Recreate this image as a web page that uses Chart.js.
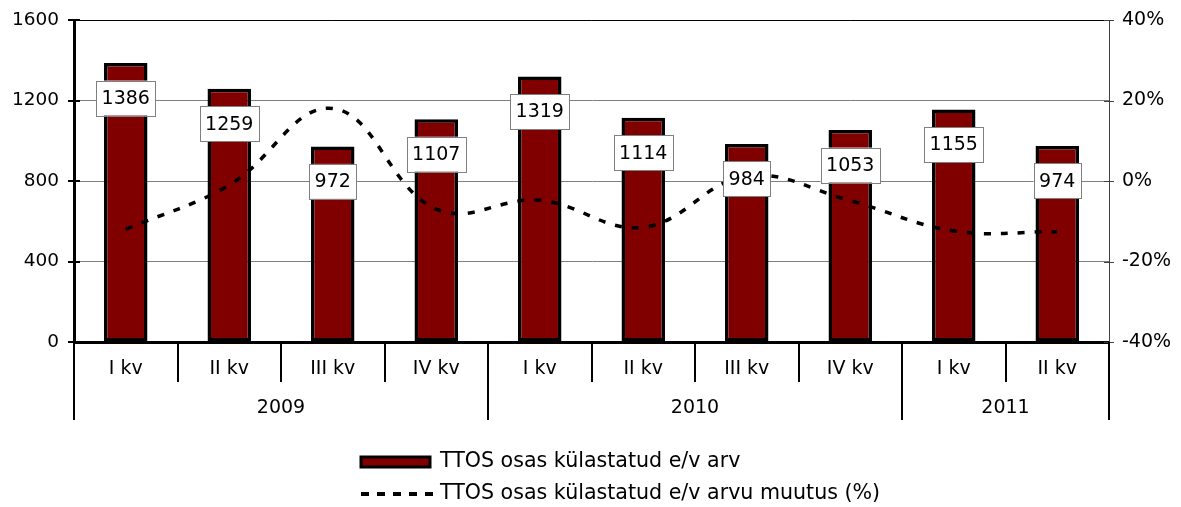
<!DOCTYPE html>
<html lang="et">
<head>
  <meta charset="UTF-8">
  <title>TTOS osas külastatud e/v arv</title>
  <style>
    body { margin: 0; padding: 0; background: #ffffff; }
    #wrap { width: 1181px; height: 507px; }
  </style>
</head>
<body>
  <div id="wrap"><canvas id="chart" width="1181" height="507"></canvas></div>

  <script src="https://cdn.jsdelivr.net/npm/chart.js"></script>
  <script>
    // Data
    const quarters = ['I kv', 'II kv', 'III kv', 'IV kv', 'I kv', 'II kv', 'III kv', 'IV kv', 'I kv', 'II kv'];
    const years = ['2009', '2010', '2011'];
    const quartersPerYear = [4, 4, 2];
    const visits = [1386, 1259, 972, 1107, 1319, 1114, 984, 1053, 1155, 974];
    const changePct = [-12, -1, 18, -7, -4.8, -11.5, 1.2, -4.9, -12.4, -12.6];

    const FONT = '"DejaVu Sans", Verdana, sans-serif';

    // Labels, two-level category axis, tick marks, top border and legend
    const extras = {
      id: 'extras',
      afterDatasetsDraw(chart) {
        const ctx = chart.ctx;
        const meta = chart.getDatasetMeta(0);
        ctx.save();
        ctx.font = '19px ' + FONT;
        ctx.textAlign = 'center';
        ctx.textBaseline = 'middle';
        meta.data.forEach((bar, i) => {
          const txt = String(visits[i]);
          const w = ctx.measureText(txt).width + 11;
          const h = 35;
          const cx = bar.x;
          const cy = bar.y + 35;
          ctx.fillStyle = '#ffffff';
          ctx.fillRect(cx - w / 2, cy - h / 2, w, h);
          ctx.strokeStyle = '#808080';
          ctx.lineWidth = 1;
          ctx.strokeRect(Math.round(cx - w / 2) + 0.5, Math.round(cy - h / 2) + 0.5, Math.round(w), h);
          ctx.fillStyle = '#000000';
          ctx.fillText(txt, cx, cy + 1);
        });
        ctx.restore();
      },
      afterDraw(chart) {
        const ctx = chart.ctx;
        const area = chart.chartArea;
        const x = chart.scales.x;
        const y = chart.scales.y;
        const y1 = chart.scales.y1;
        const half = (x.getPixelForValue(1) - x.getPixelForValue(0)) / 2;
        ctx.save();

        // top border
        ctx.strokeStyle = '#000000';
        ctx.lineWidth = 1;
        ctx.beginPath();
        ctx.moveTo(area.left, Math.round(area.top) + 0.5);
        ctx.lineTo(area.right, Math.round(area.top) + 0.5);
        ctx.stroke();

        // tick marks crossing the value axes
        ctx.lineWidth = 2;
        y.ticks.forEach(t => {
          const py = Math.round(y.getPixelForValue(t.value));
          ctx.beginPath();
          ctx.moveTo(area.left - 6, py);
          ctx.lineTo(area.left + 6, py);
          ctx.stroke();
        });
        ctx.strokeStyle = '#404040';
        ctx.lineWidth = 1;
        y1.ticks.forEach(t => {
          const py = Math.round(y1.getPixelForValue(t.value)) + 0.5;
          ctx.beginPath();
          ctx.moveTo(area.right - 5, py);
          ctx.lineTo(area.right + 5, py);
          ctx.stroke();
        });

        // quarter separators
        ctx.strokeStyle = '#000000';
        ctx.lineWidth = 2;
        for (let i = 1; i < quarters.length; i++) {
          const px = Math.round(x.getPixelForValue(i) - half);
          ctx.beginPath();
          ctx.moveTo(px, area.bottom);
          ctx.lineTo(px, area.bottom + 40);
          ctx.stroke();
        }

        // year separators and labels
        ctx.font = '19px ' + FONT;
        ctx.fillStyle = '#000000';
        ctx.textAlign = 'center';
        ctx.textBaseline = 'middle';
        let start = 0;
        const edges = [start];
        quartersPerYear.forEach(n => { start += n; edges.push(start); });
        edges.forEach(e => {
          const px = Math.round(x.getPixelForValue(e) - half);
          ctx.beginPath();
          ctx.moveTo(px, area.bottom);
          ctx.lineTo(px, area.bottom + 78);
          ctx.stroke();
        });
        years.forEach((yr, k) => {
          const a = x.getPixelForValue(edges[k]) - half;
          const b = x.getPixelForValue(edges[k + 1]) - half;
          ctx.fillText(yr, (a + b) / 2, area.bottom + 66);
        });

        // legend
        const lx = 361, lw = 69;
        ctx.fillStyle = '#800000';
        ctx.strokeStyle = '#000000';
        ctx.lineWidth = 3;
        ctx.fillRect(lx, 457, lw, 10);
        ctx.strokeRect(lx, 457, lw, 10);
        ctx.lineWidth = 4;
        ctx.setLineDash([8, 8]);
        ctx.beginPath();
        ctx.moveTo(lx, 494);
        ctx.lineTo(lx + lw + 6, 494);
        ctx.stroke();
        ctx.setLineDash([]);
        ctx.fillStyle = '#000000';
        ctx.textAlign = 'left';
        ctx.font = '20.6px ' + FONT;
        ctx.fillText(chart.data.datasets[0].label, lx + 79, 462);
        ctx.fillText(chart.data.datasets[1].label, lx + 79, 494);
        ctx.restore();
      }
    };

    new Chart(document.getElementById('chart'), {
      data: {
        labels: quarters,
        datasets: [
          {
            type: 'bar',
            label: 'TTOS osas külastatud e/v arv',
            data: visits,
            backgroundColor: '#800000',
            borderColor: '#000000',
            borderWidth: 3.5,
            borderSkipped: false,
            categoryPercentage: 1,
            barPercentage: 0.42,
            yAxisID: 'y',
            order: 1
          },
          {
            type: 'line',
            label: 'TTOS osas külastatud e/v arvu muutus (%)',
            data: changePct,
            borderColor: '#000000',
            borderWidth: 3.5,
            borderDash: [7, 10],
            pointRadius: 0,
            tension: 0.4,
            fill: false,
            yAxisID: 'y1',
            order: 0
          }
        ]
      },
      options: {
        responsive: false,
        animation: false,
        layout: { padding: { top: 20, left: 0, right: 0, bottom: 0 } },
        plugins: {
          legend: { display: false },
          tooltip: { enabled: false }
        },
        scales: {
          x: {
            offset: true,
            grid: { display: false, drawTicks: false },
            border: { color: '#000000', width: 3 },
            ticks: { color: '#000000', font: { family: FONT, size: 19 }, padding: 16, maxRotation: 0 },
            afterFit(s) { s.height = 165; }
          },
          y: {
            position: 'left',
            min: 0,
            max: 1600,
            ticks: { stepSize: 400, color: '#000000', font: { family: FONT, size: 18.5 }, padding: 3,
                     callback: v => String(v) },
            grid: { color: '#808080', lineWidth: 1, tickLength: 12, tickColor: 'rgba(0,0,0,0)' },
            border: { color: '#000000', width: 3 },
            afterFit(s) { s.width = 74; }
          },
          y1: {
            position: 'right',
            min: -40,
            max: 40,
            ticks: { stepSize: 20, color: '#000000', font: { family: FONT, size: 19 }, padding: 3,
                     callback: v => v + '%' },
            grid: { drawOnChartArea: false, tickLength: 10, tickColor: 'rgba(0,0,0,0)' },
            border: { color: '#404040', width: 1 },
            afterFit(s) { s.width = 72; }
          }
        }
      },
      plugins: [extras]
    });
  </script>
</body>
</html>
